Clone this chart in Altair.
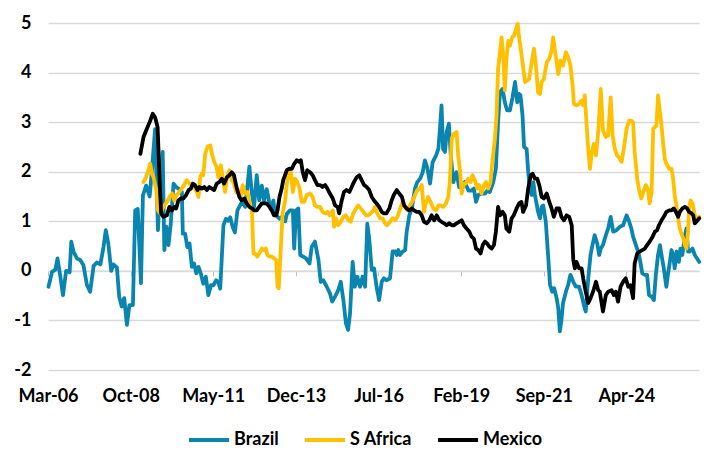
import altair as alt
import pandas as pd

series_names = ["Brazil", "S Africa", "Mexico"]
series_colors = ["#0A85B0", "#FFC000", "#000000"]
y_ticks = [-2, -1, 0, 1, 2, 3, 4, 5]
x_tick_dates = ["2006-03-01", "2008-10-01", "2011-05-01", "2013-12-01",
                "2016-07-01", "2019-02-01", "2021-09-01", "2024-04-01"]

brazil_year = [2006.18, 2006.29, 2006.39, 2006.46, 2006.55, 2006.63, 2006.73, 2006.84, 2006.89, 2006.96,
               2007.07, 2007.17, 2007.27, 2007.38, 2007.48, 2007.59, 2007.69, 2007.80, 2007.90, 2007.97,
               2008.05, 2008.14, 2008.21, 2008.32, 2008.39, 2008.47, 2008.55, 2008.63, 2008.71, 2008.82,
               2008.89, 2008.97, 2009.07, 2009.13, 2009.23, 2009.34, 2009.41, 2009.51, 2009.60, 2009.67,
               2009.75, 2009.80, 2009.86, 2009.93, 2010.00, 2010.09, 2010.17, 2010.27, 2010.35, 2010.38,
               2010.45, 2010.52, 2010.59, 2010.66, 2010.73, 2010.80, 2010.87, 2010.94, 2011.02, 2011.10,
               2011.18, 2011.26, 2011.34, 2011.42, 2011.49, 2011.55, 2011.65, 2011.73, 2011.80, 2011.86,
               2011.94, 2012.01, 2012.09, 2012.17, 2012.25, 2012.33, 2012.38, 2012.46, 2012.54, 2012.61,
               2012.69, 2012.77, 2012.85, 2012.92, 2013.00, 2013.09, 2013.16, 2013.21, 2013.26, 2013.40,
               2013.50, 2013.58, 2013.63, 2013.73, 2013.82, 2013.86, 2013.92, 2013.99, 2014.05, 2014.13,
               2014.23, 2014.34, 2014.41, 2014.51, 2014.62, 2014.69, 2014.77, 2014.88, 2014.98, 2015.05,
               2015.14, 2015.24, 2015.32, 2015.40, 2015.48, 2015.55, 2015.61, 2015.69, 2015.76, 2015.84,
               2015.92, 2016.00, 2016.08, 2016.15, 2016.21, 2016.29, 2016.36, 2016.44, 2016.52, 2016.60,
               2016.67, 2016.75, 2016.86, 2016.94, 2017.02, 2017.07, 2017.12, 2017.17, 2017.25, 2017.33,
               2017.38, 2017.46, 2017.54, 2017.64, 2017.71, 2017.80, 2017.88, 2017.95, 2018.02, 2018.11,
               2018.19, 2018.30, 2018.37, 2018.42, 2018.47, 2018.52, 2018.58, 2018.63, 2018.70, 2018.76,
               2018.84, 2018.94, 2019.02, 2019.10, 2019.20, 2019.31, 2019.41, 2019.48, 2019.55, 2019.62,
               2019.72, 2019.83, 2019.90, 2019.98, 2020.09, 2020.17, 2020.24, 2020.30, 2020.38, 2020.45,
               2020.52, 2020.61, 2020.69, 2020.77, 2020.84, 2020.90, 2020.94, 2021.00, 2021.05, 2021.13,
               2021.18, 2021.23, 2021.29, 2021.34, 2021.39, 2021.44, 2021.49, 2021.55, 2021.60, 2021.65,
               2021.73, 2021.80, 2021.86, 2021.93, 2021.99, 2022.07, 2022.12, 2022.17, 2022.22, 2022.27,
               2022.36, 2022.43, 2022.50, 2022.59, 2022.67, 2022.77, 2022.85, 2022.92, 2022.98, 2023.06,
               2023.13, 2023.19, 2023.26, 2023.34, 2023.40, 2023.45, 2023.52, 2023.61, 2023.68, 2023.76,
               2023.84, 2023.94, 2024.05, 2024.15, 2024.26, 2024.34, 2024.41, 2024.46, 2024.55, 2024.62,
               2024.67, 2024.75, 2024.83, 2024.90, 2024.96, 2025.04, 2025.11, 2025.17, 2025.24, 2025.30,
               2025.35, 2025.42, 2025.50, 2025.55, 2025.61, 2025.66, 2025.71, 2025.76, 2025.82, 2025.89,
               2025.94, 2026.00, 2026.08, 2026.13, 2026.18, 2026.23, 2026.32, 2026.39, 2026.46, 2026.53]
brazil_value = [-0.32, -0.02, 0.02, 0.25, -0.12, -0.49, 0.00, -0.03, 0.59, 0.39,
                0.25, 0.22, 0.12, -0.28, -0.42, 0.10, 0.17, 0.13, 0.48, 0.82,
                0.55, 0.00, 0.13, 0.07, -0.52, -0.72, -0.55, -1.09, -0.69, -0.69,
                1.22, 1.25, -0.25, 1.52, 1.72, 1.50, 2.00, 2.86, 0.82, 1.76,
                2.40, 0.42, 0.89, 0.52, 0.95, 1.76, 1.69, 1.65, 1.59, 0.75,
                0.75, 0.48, 0.55, 0.08, 0.15, -0.05, 0.08, -0.05, -0.26, -0.12,
                -0.49, -0.29, -0.29, -0.19, -0.22, -0.36, 0.92, 1.05, 1.01, 1.08,
                0.88, 0.78, 1.22, 1.32, 1.42, 1.29, 1.56, 2.10, 1.56, 1.29,
                1.93, 1.42, 1.72, 1.42, 1.65, 1.36, 1.22, 1.42, 1.15, 1.05,
                1.10, 1.00, 1.15, 1.22, 1.22, 0.45, 1.22, 1.26, 0.32, 0.29,
                0.25, 0.15, 0.48, 0.59, 0.22, -0.22, -0.19, -0.32, -0.45, -0.62,
                -0.52, -0.39, -0.22, -0.59, -1.06, -1.19, -0.86, 0.18, -0.32, -0.12,
                -0.32, -0.12, -0.32, 0.95, 0.65, 0.02, 0.05, -0.32, -0.59, -0.22,
                -0.15, -0.19, -0.15, 0.39, 0.39, 0.32, 0.42, 0.32, 0.39, 0.42,
                0.79, 1.12, 1.26, 1.66, 1.79, 1.86, 1.99, 2.23, 2.09, 1.76,
                2.19, 2.33, 2.46, 2.87, 3.34, 2.46, 2.40, 2.80, 2.97, 2.33,
                1.79, 1.99, 1.69, 1.69, 1.79, 1.62, 1.62, 1.66, 1.39, 1.53,
                1.56, 1.56, 1.62, 1.59, 1.79, 2.06, 3.00, 3.60, 3.67, 3.40,
                3.24, 3.24, 3.50, 3.81, 3.40, 3.57, 3.54, 3.14, 2.50, 2.46,
                2.00, 1.66, 1.53, 1.79, 1.53, 1.36, 1.19, 1.06, 1.29, 1.32,
                0.99, 0.32, -0.28, -0.42, -0.35, -0.55, -0.75, -1.22, -0.99, -0.65,
                -0.42, -0.28, -0.08, -0.22, -0.32, -0.32, -0.49, -0.69, -0.82, -0.15,
                0.32, 0.52, 0.72, 0.55, 0.32, 0.45, 0.52, 0.72, 0.85, 1.09,
                0.79, 0.82, 0.89, 0.92, 1.12, 0.99, 0.85, 0.69, 0.52, 0.39,
                0.25, -0.05, -0.08, -0.08, -0.49, -0.52, -0.59, -0.08, 0.32, 0.52,
                0.32, 0.05, -0.32, -0.08, 0.18, 0.42, 0.32, 0.05, 0.39, 0.18,
                0.45, 0.32, 0.72, 0.85, 0.39, 0.39, 0.45, 0.32, 0.25, 0.18]

safrica_year = [2009.15, 2009.23, 2009.30, 2009.36, 2009.41, 2009.46, 2009.55, 2009.60, 2009.67, 2009.77,
                2009.88, 2009.96, 2010.04, 2010.11, 2010.19, 2010.27, 2010.35, 2010.42, 2010.50, 2010.59,
                2010.66, 2010.73, 2010.82, 2010.87, 2010.92, 2010.97, 2011.02, 2011.08, 2011.15, 2011.24,
                2011.29, 2011.36, 2011.44, 2011.49, 2011.57, 2011.63, 2011.70, 2011.76, 2011.84, 2011.91,
                2011.96, 2012.05, 2012.12, 2012.19, 2012.25, 2012.33, 2012.40, 2012.46, 2012.54, 2012.59,
                2012.64, 2012.71, 2012.77, 2012.85, 2012.92, 2012.98, 2013.02, 2013.09, 2013.16, 2013.23,
                2013.30, 2013.34, 2013.38, 2013.44, 2013.50, 2013.58, 2013.62, 2013.68, 2013.76, 2013.82,
                2013.89, 2013.96, 2014.02, 2014.10, 2014.17, 2014.26, 2014.36, 2014.44, 2014.51, 2014.59,
                2014.67, 2014.75, 2014.83, 2014.90, 2014.98, 2015.07, 2015.11, 2015.17, 2015.24, 2015.32,
                2015.40, 2015.48, 2015.56, 2015.63, 2015.71, 2015.80, 2015.87, 2015.94, 2016.03, 2016.11,
                2016.18, 2016.26, 2016.34, 2016.39, 2016.46, 2016.55, 2016.63, 2016.70, 2016.77, 2016.86,
                2016.94, 2017.02, 2017.09, 2017.17, 2017.25, 2017.33, 2017.40, 2017.48, 2017.57, 2017.64,
                2017.71, 2017.80, 2017.85, 2017.92, 2017.98, 2018.05, 2018.13, 2018.21, 2018.30, 2018.37,
                2018.44, 2018.52, 2018.61, 2018.68, 2018.73, 2018.79, 2018.86, 2018.94, 2018.99, 2019.05,
                2019.10, 2019.17, 2019.23, 2019.30, 2019.38, 2019.44, 2019.51, 2019.59, 2019.65, 2019.72,
                2019.80, 2019.86, 2019.93, 2020.00, 2020.07, 2020.14, 2020.19, 2020.24, 2020.30, 2020.35,
                2020.40, 2020.45, 2020.50, 2020.56, 2020.61, 2020.68, 2020.74, 2020.80, 2020.85, 2020.90,
                2020.95, 2021.00, 2021.08, 2021.15, 2021.21, 2021.29, 2021.36, 2021.42, 2021.49, 2021.55,
                2021.60, 2021.67, 2021.76, 2021.84, 2021.91, 2021.96, 2022.01, 2022.07, 2022.12, 2022.19,
                2022.27, 2022.36, 2022.43, 2022.50, 2022.57, 2022.61, 2022.69, 2022.77, 2022.85, 2022.90,
                2022.95, 2023.00, 2023.06, 2023.11, 2023.16, 2023.23, 2023.30, 2023.37, 2023.45, 2023.52,
                2023.61, 2023.68, 2023.76, 2023.82, 2023.89, 2023.96, 2024.05, 2024.10, 2024.17, 2024.26,
                2024.34, 2024.41, 2024.46, 2024.51, 2024.59, 2024.65, 2024.72, 2024.80, 2024.86, 2024.93,
                2024.98, 2025.04, 2025.09, 2025.14, 2025.19, 2025.24, 2025.30, 2025.35, 2025.40, 2025.45,
                2025.50, 2025.59, 2025.66, 2025.71, 2025.76, 2025.82, 2025.87, 2025.92, 2025.97, 2026.03,
                2026.08, 2026.13, 2026.18, 2026.21, 2026.26, 2026.32, 2026.39, 2026.46, 2026.53]
safrica_value = [1.79, 1.89, 2.03, 2.16, 1.96, 1.89, 1.63, 1.22, 1.16, 1.29,
                 1.39, 1.49, 1.56, 1.42, 1.53, 1.59, 1.66, 1.73, 1.83, 1.76,
                 1.73, 1.69, 1.59, 1.49, 1.89, 1.96, 1.93, 2.36, 2.50, 2.53,
                 2.36, 2.20, 2.09, 1.89, 2.13, 1.86, 1.59, 1.89, 2.03, 1.83,
                 1.79, 1.59, 1.63, 1.49, 1.73, 1.56, 1.59, 1.39, 1.22, 0.35,
                 0.35, 0.29, 0.35, 0.45, 0.42, 0.45, 0.32, 0.29, 0.29, 0.25,
                 0.22, -0.32, -0.35, 0.42, 1.16, 1.42, 1.70, 1.96, 1.99, 1.59,
                 1.86, 1.79, 1.69, 1.39, 1.39, 1.53, 1.56, 1.49, 1.32, 1.29,
                 1.29, 1.19, 1.16, 1.19, 1.12, 1.22, 0.89, 1.06, 0.92, 0.99,
                 1.09, 1.12, 1.02, 0.99, 1.16, 1.26, 1.32, 1.26, 1.19, 1.12,
                 1.12, 1.16, 1.22, 1.29, 1.16, 1.06, 1.06, 0.96, 0.92, 0.99,
                 1.06, 1.02, 1.09, 1.24, 1.39, 1.29, 1.22, 1.32, 1.42, 1.53,
                 1.63, 1.66, 1.73, 1.19, 1.36, 1.49, 1.39, 1.26, 1.22, 1.32,
                 1.32, 1.29, 1.36, 1.49, 1.79, 2.67, 2.77, 2.80, 2.33, 2.00,
                 1.56, 1.76, 1.76, 1.86, 1.79, 1.93, 1.83, 1.66, 1.73, 1.56,
                 1.73, 1.79, 1.66, 1.79, 2.26, 2.67, 3.13, 4.07, 4.41, 4.71,
                 4.34, 3.64, 4.28, 4.64, 4.54, 4.71, 4.75, 4.88, 4.98, 4.71,
                 4.48, 4.21, 3.81, 3.84, 3.87, 4.21, 4.48, 4.14, 3.60, 3.57,
                 3.81, 3.87, 4.21, 4.28, 4.44, 4.71, 4.48, 4.21, 3.97, 4.24,
                 4.14, 4.41, 4.31, 4.14, 3.74, 3.37, 3.34, 3.37, 3.43, 3.34,
                 3.54, 3.00, 2.46, 2.06, 2.33, 2.56, 2.33, 2.80, 3.67, 2.83,
                 2.70, 2.73, 3.50, 2.73, 2.46, 2.33, 2.26, 2.20, 2.46, 2.87,
                 3.03, 3.03, 3.00, 2.40, 1.86, 1.63, 1.46, 1.63, 1.73, 1.63,
                 1.36, 1.59, 2.87, 2.90, 2.93, 3.54, 3.20, 2.93, 2.56, 2.26,
                 2.16, 2.06, 2.06, 1.86, 1.53, 1.29, 1.06, 0.85, 0.75, 0.65,
                 0.52, 0.45, 0.79, 1.26, 1.42, 1.36, 1.12, 1.02, 1.09]

mexico_year = [2009.05, 2009.15, 2009.23, 2009.34, 2009.44, 2009.51, 2009.59, 2009.65, 2009.70, 2009.77,
               2009.88, 2009.96, 2010.04, 2010.11, 2010.17, 2010.24, 2010.32, 2010.40, 2010.48, 2010.56,
               2010.63, 2010.69, 2010.76, 2010.84, 2010.90, 2010.97, 2011.05, 2011.13, 2011.21, 2011.29,
               2011.36, 2011.44, 2011.52, 2011.60, 2011.67, 2011.76, 2011.84, 2011.91, 2011.98, 2012.07,
               2012.15, 2012.22, 2012.30, 2012.38, 2012.46, 2012.54, 2012.61, 2012.69, 2012.77, 2012.85,
               2012.92, 2013.00, 2013.09, 2013.16, 2013.23, 2013.30, 2013.34, 2013.40, 2013.47, 2013.52,
               2013.63, 2013.71, 2013.79, 2013.86, 2013.94, 2014.02, 2014.07, 2014.13, 2014.20, 2014.27,
               2014.36, 2014.44, 2014.51, 2014.59, 2014.67, 2014.75, 2014.83, 2014.90, 2014.98, 2015.07,
               2015.14, 2015.22, 2015.27, 2015.35, 2015.42, 2015.50, 2015.59, 2015.66, 2015.73, 2015.82,
               2015.90, 2015.97, 2016.05, 2016.13, 2016.21, 2016.29, 2016.36, 2016.44, 2016.52, 2016.60,
               2016.67, 2016.75, 2016.84, 2016.91, 2016.98, 2017.07, 2017.15, 2017.23, 2017.30, 2017.38,
               2017.46, 2017.54, 2017.61, 2017.69, 2017.77, 2017.85, 2017.92, 2018.01, 2018.09, 2018.16,
               2018.24, 2018.32, 2018.40, 2018.47, 2018.55, 2018.63, 2018.71, 2018.79, 2018.86, 2018.94,
               2019.02, 2019.10, 2019.17, 2019.26, 2019.34, 2019.41, 2019.48, 2019.55, 2019.62, 2019.69,
               2019.76, 2019.83, 2019.90, 2019.96, 2020.04, 2020.11, 2020.17, 2020.24, 2020.30, 2020.38,
               2020.45, 2020.50, 2020.59, 2020.66, 2020.73, 2020.82, 2020.90, 2020.97, 2021.02, 2021.11,
               2021.18, 2021.26, 2021.32, 2021.39, 2021.46, 2021.53, 2021.60, 2021.67, 2021.76, 2021.84,
               2021.91, 2021.98, 2022.07, 2022.15, 2022.22, 2022.30, 2022.38, 2022.46, 2022.54, 2022.59,
               2022.64, 2022.69, 2022.77, 2022.85, 2022.90, 2022.98, 2023.06, 2023.13, 2023.21, 2023.30,
               2023.37, 2023.42, 2023.52, 2023.61, 2023.68, 2023.79, 2023.86, 2023.92, 2023.99, 2024.07,
               2024.15, 2024.23, 2024.31, 2024.38, 2024.46, 2024.51, 2024.59, 2024.67, 2024.75, 2024.83,
               2024.90, 2024.98, 2025.07, 2025.14, 2025.21, 2025.27, 2025.35, 2025.42, 2025.50, 2025.59,
               2025.66, 2025.73, 2025.80, 2025.87, 2025.92, 2026.00, 2026.08, 2026.15, 2026.21, 2026.29,
               2026.34, 2026.39, 2026.44, 2026.53]
mexico_value = [2.36, 2.70, 2.83, 3.00, 3.17, 3.10, 2.90, 1.89, 1.16, 1.09,
                1.12, 1.29, 1.22, 1.29, 1.26, 1.42, 1.46, 1.46, 1.53, 1.63,
                1.66, 1.76, 1.73, 1.63, 1.69, 1.66, 1.69, 1.63, 1.69, 1.66,
                1.63, 1.76, 1.79, 1.86, 1.76, 1.89, 1.93, 1.99, 1.93, 1.66,
                1.49, 1.42, 1.46, 1.36, 1.29, 1.26, 1.22, 1.22, 1.29, 1.36,
                1.36, 1.36, 1.29, 1.22, 1.12, 1.12, 1.22, 1.49, 1.66, 1.83,
                2.03, 2.06, 2.06, 2.16, 2.23, 2.20, 2.23, 1.99, 1.83, 2.03,
                1.99, 1.93, 1.83, 1.73, 1.73, 1.69, 1.73, 1.66, 1.56, 1.46,
                1.32, 1.29, 1.16, 1.42, 1.59, 1.63, 1.59, 1.69, 1.79, 1.89,
                1.93, 1.83, 1.73, 1.69, 1.63, 1.49, 1.42, 1.36, 1.29, 1.19,
                1.16, 1.16, 1.26, 1.42, 1.53, 1.63, 1.56, 1.49, 1.32, 1.26,
                1.22, 1.26, 1.22, 1.19, 1.19, 1.12, 0.99, 0.96, 1.02, 1.12,
                1.02, 1.12, 1.02, 0.99, 0.96, 0.92, 0.96, 0.92, 0.92, 0.96,
                0.99, 1.02, 0.92, 0.85, 0.79, 0.69, 0.65, 0.45, 0.42, 0.35,
                0.52, 0.59, 0.55, 0.49, 0.45, 0.52, 0.79, 1.29, 1.12, 1.19,
                1.12, 0.85, 0.79, 1.06, 1.12, 1.26, 1.36, 1.39, 1.19, 1.32,
                1.66, 1.93, 1.96, 1.86, 1.86, 1.72, 1.49, 1.46, 1.56, 1.39,
                1.26, 1.09, 1.26, 1.26, 1.09, 1.02, 1.12, 1.09, 0.92, 0.22,
                0.05, 0.18, 0.05, 0.05, -0.15, -0.42, -0.65, -0.55, -0.42, -0.22,
                -0.39, -0.42, -0.82, -0.49, -0.42, -0.39, -0.49, -0.42, -0.62, -0.32,
                -0.22, -0.15, -0.32, -0.29, -0.55, 0.15, 0.35, 0.39, 0.42, 0.45,
                0.52, 0.59, 0.69, 0.79, 0.82, 0.92, 1.02, 1.09, 1.19, 1.22,
                1.22, 1.26, 1.19, 1.09, 1.19, 1.26, 1.29, 1.26, 1.19, 1.16,
                1.12, 0.96, 0.99, 1.06]


def year_to_date(y):
    yr = int(y)
    return (pd.Timestamp(yr, 1, 1) + pd.Timedelta(days=(y - yr) * 365.25)).strftime("%Y-%m-%d")


frames = []
for name, years, vals in [("Brazil", brazil_year, brazil_value),
                          ("S Africa", safrica_year, safrica_value),
                          ("Mexico", mexico_year, mexico_value)]:
    frames.append(pd.DataFrame({"date": [year_to_date(y) for y in years],
                                "value": vals, "series": name}))
df = pd.concat(frames, ignore_index=True)

FONT = "Lato"
FS = 18
GRID = "#D9D9D9"
PLOT_H = 347
zero_offset = (5 / 7) * PLOT_H - PLOT_H  # move x axis up to y = 0

x_enc = alt.X(
    "date:T",
    scale=alt.Scale(domain=["2006-03-01", "2026-07-10"], nice=False),
    axis=alt.Axis(
        values=x_tick_dates, format="%b-%y", title=None,
        offset=zero_offset, grid=False,
        domain=True, domainColor=GRID, domainWidth=1.5,
        ticks=True, tickSize=5, tickColor="#BFBFBF", tickWidth=1,
        labelPadding=126, labelBaseline="alphabetic", labelFlush=False,
        labelOverlap=False, labelFont=FONT, labelFontWeight="bold",
        labelFontSize=FS, labelColor="#000000",
    ),
)
y_enc = alt.Y(
    "value:Q",
    scale=alt.Scale(domain=[-2, 5], nice=False),
    axis=alt.Axis(
        values=y_ticks, labelExpr="datum.value + ''", title=None,
        domain=False, ticks=False, grid=True, gridColor=GRID, gridWidth=1.5,
        labelPadding=17, labelFont=FONT, labelFontWeight="bold",
        labelFontSize=FS, labelColor="#000000",
    ),
)
color_enc = alt.Color(
    "series:N",
    scale=alt.Scale(domain=series_names, range=series_colors),
    legend=alt.Legend(
        title=None, orient="none", legendX=139, legendY=395,
        direction="horizontal", symbolType="stroke", symbolSize=1600,
        symbolStrokeWidth=4, labelFont=FONT, labelFontWeight="bold",
        labelFontSize=FS, labelColor="#000000", labelOffset=3,
        columnPadding=18, padding=0,
    ),
)

base = alt.Chart(df).encode(x=x_enc, y=y_enc, color=color_enc)
layers = [
    base.transform_filter(alt.datum.series == s).mark_line(
        strokeWidth=3.8, strokeJoin="round", strokeCap="round")
    for s in series_names
]

chart = alt.layer(*layers).properties(
    width=651, height=PLOT_H,
    padding={"left": 40, "top": 15, "right": 14, "bottom": 85},
    autosize=alt.AutoSizeParams(type="none"),
    background="white",
).configure_view(stroke=None)

chart.save("out.html", embed_options={"renderer": "svg", "actions": False})
